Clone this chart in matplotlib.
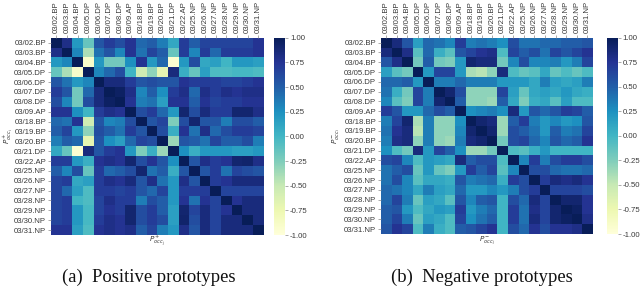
import numpy as np
import matplotlib
matplotlib.use("Agg")
import matplotlib.pyplot as plt

labels = ["03/02.BP","03/03.BP","03/04.BP","03/05.DP","03/06.DP","03/07.DP","03/08.DP","03/09.AP",
          "03/18.BP","03/19.BP","03/20.BP","03/21.DP","03/22.AP","03/25.NP","03/26.NP","03/27.NP",
          "03/28.NP","03/29.NP","03/30.NP","03/31.NP"]
cbar_ticks = [-1.0,-0.75,-0.5,-0.25,0.0,0.25,0.5,0.75,1.0]
caption_a = "(a)  Positive prototypes"
caption_b = "(b)  Negative prototypes"

# upper triangles, row by row
pos_upper = [
 [1,.8,.2,-.15,.55,.7,.6,.75,.45,.5,.35,.1,.7,.5,.65,.65,.65,.65,.65,.75],
 [1,.3,-.4,.4,.55,.3,.75,.4,.65,.5,-.15,.7,.3,.7,.45,.7,.7,.7,.75],
 [1,-.9,.2,-.2,-.2,.25,.75,.2,.45,-.95,.2,.6,.1,.15,.0,.2,.2,.15],
 [1,.3,.45,.6,.0,-.55,-.3,-.7,.85,.05,-.15,.15,-.05,-.05,-.02,-.02,-.05],
 [1,.85,.85,.7,.55,.6,.55,.55,.75,.7,.7,.7,.65,.65,.7,.75],
 [1,.95,.8,.3,.5,.25,.7,.8,.45,.8,.7,.8,.75,.8,.8],
 [1,.75,.35,.4,.15,.75,.75,.5,.75,.65,.7,.7,.75,.75],
 [1,.6,.7,.45,.2,.9,.6,.85,.7,.7,.9,.9,.8],
 [1,.55,.65,-.25,.6,.9,.55,.55,.35,.6,.6,.5],
 [1,.6,.05,.75,.4,.8,.45,.6,.7,.7,.65],
 [1,-.35,.55,.5,.4,.65,.5,.5,.6,.35],
 [1,.25,.05,.2,.2,.2,.15,.15,.2],
 [1,.55,.8,.7,.75,.9,.92,.8],
 [1,.55,.7,.4,.65,.6,.55],
 [1,.7,.75,.85,.85,.85],
 [1,.65,.65,.65,.65],
 [1,.75,.85,.85],
 [1,.85,.85],
 [1,.85],
 [1],
]
neg_upper = [
 [1,.85,.55,.15,.45,.4,.3,.7,.35,.4,.35,.25,.6,.4,.4,.45,.45,.5,.5,.55],
 [1,.8,-.1,.45,.05,-.1,.55,.65,.75,.8,-.05,.65,.5,.6,.4,.65,.55,.65,.75],
 [1,-.2,.5,-.2,-.25,.2,.9,.85,.85,-.2,.3,.6,.3,.3,.35,.2,.35,.65],
 [1,.2,.65,.65,.2,-.4,-.45,-.3,.85,-.05,-.15,-.1,.1,-.15,-.05,-.15,-.05],
 [1,.35,.35,.45,.35,.35,.35,.2,.2,.2,.1,.35,.15,.1,.15,.35],
 [1,.9,.6,-.3,-.3,-.3,.65,.15,-.15,.1,.15,.1,.2,.1,.05],
 [1,.5,-.3,-.3,-.35,.5,.1,-.25,.05,.1,-.1,.15,-.05,-.05],
 [1,.25,.3,.35,.25,.85,.2,.55,.45,.55,.7,.65,.5],
 [1,.9,.85,-.35,.5,.7,.35,.2,.3,.2,.25,.55],
 [1,.9,-.35,.6,.5,.4,.2,.5,.35,.4,.65],
 [1,-.2,.6,.65,.45,.3,.55,.45,.5,.75],
 [1,-.05,-.1,.05,.2,.0,.0,.0,.0],
 [1,.3,.7,.35,.6,.7,.7,.6],
 [1,.6,.6,.45,.4,.4,.45],
 [1,.7,.85,.8,.85,.75],
 [1,.65,.65,.65,.6],
 [1,.9,.9,.75],
 [1,.95,.75],
 [1,.8],
 [1],
]

def full(upper):
    n = len(upper)
    m = np.zeros((n, n))
    for i, row in enumerate(upper):
        m[i, i:] = row
        m[i:, i] = row
    return m

plt.rcParams["font.family"] = ["Liberation Sans", "DejaVu Sans"]
plt.rcParams["mathtext.fontset"] = "dejavusans"
W, H = 640, 286
GRAY = "#3a3a3a"
fig = plt.figure(figsize=(W/100, H/100), dpi=100)

def panel(m, hx0, hx1, cx0, cx1, y0, y1, ylab, xlab, ylab_x, caption, cap_x):
    ax = fig.add_axes([hx0/W, 1-y1/H, (hx1-hx0)/W, (y1-y0)/H])
    im = ax.pcolormesh(np.arange(21), np.arange(21), m, cmap="YlGnBu", vmin=-1, vmax=1)
    ax.invert_yaxis()
    ax.xaxis.tick_top()
    ax.set_xticks(np.arange(20)+.5, labels, rotation=90, fontsize=5.6, color=GRAY)
    ax.set_yticks(np.arange(20)+.5, labels, fontsize=5.6, color=GRAY)
    ax.tick_params(length=2, width=.5, pad=1.5, color="#888888")
    for s in ax.spines.values():
        s.set_visible(False)
    cax = fig.add_axes([cx0/W, 1-y1/H, (cx1-cx0)/W, (y1-y0)/H])
    cb = fig.colorbar(im, cax=cax, ticks=cbar_ticks)
    cb.ax.set_yticklabels([f"{t:.2f}" for t in cbar_ticks], fontsize=5.6, color=GRAY)
    cb.ax.tick_params(length=2, width=.5, pad=1.5, color="#888888")
    cb.outline.set_visible(False)
    fig.text((hx0+hx1)/2/W, 1-241/H, xlab, fontsize=5.2, color=GRAY, ha="center", va="center")
    fig.text(ylab_x/W, 1-(y0+y1)/2/H, ylab, fontsize=5.2, color=GRAY, rotation=90, ha="center", va="center")
    fig.text(cap_x/W, 1-277/H, caption, fontsize=13.4, family="Liberation Serif", color="#111111", ha="center", va="center")

panel(full(pos_upper), 51, 263.5, 274, 285, 37.7, 235,
      r"$P^+_{occ_i}$", r"$P^+_{occ_j}$", 8, caption_a, 149)
panel(full(neg_upper), 381, 592.7, 606.7, 617.7, 37.7, 234,
      r"$P^-_{occ_i}$", r"$P^-_{occ_j}$", 336, caption_b, 482)

fig.savefig("out.png", dpi=100)
